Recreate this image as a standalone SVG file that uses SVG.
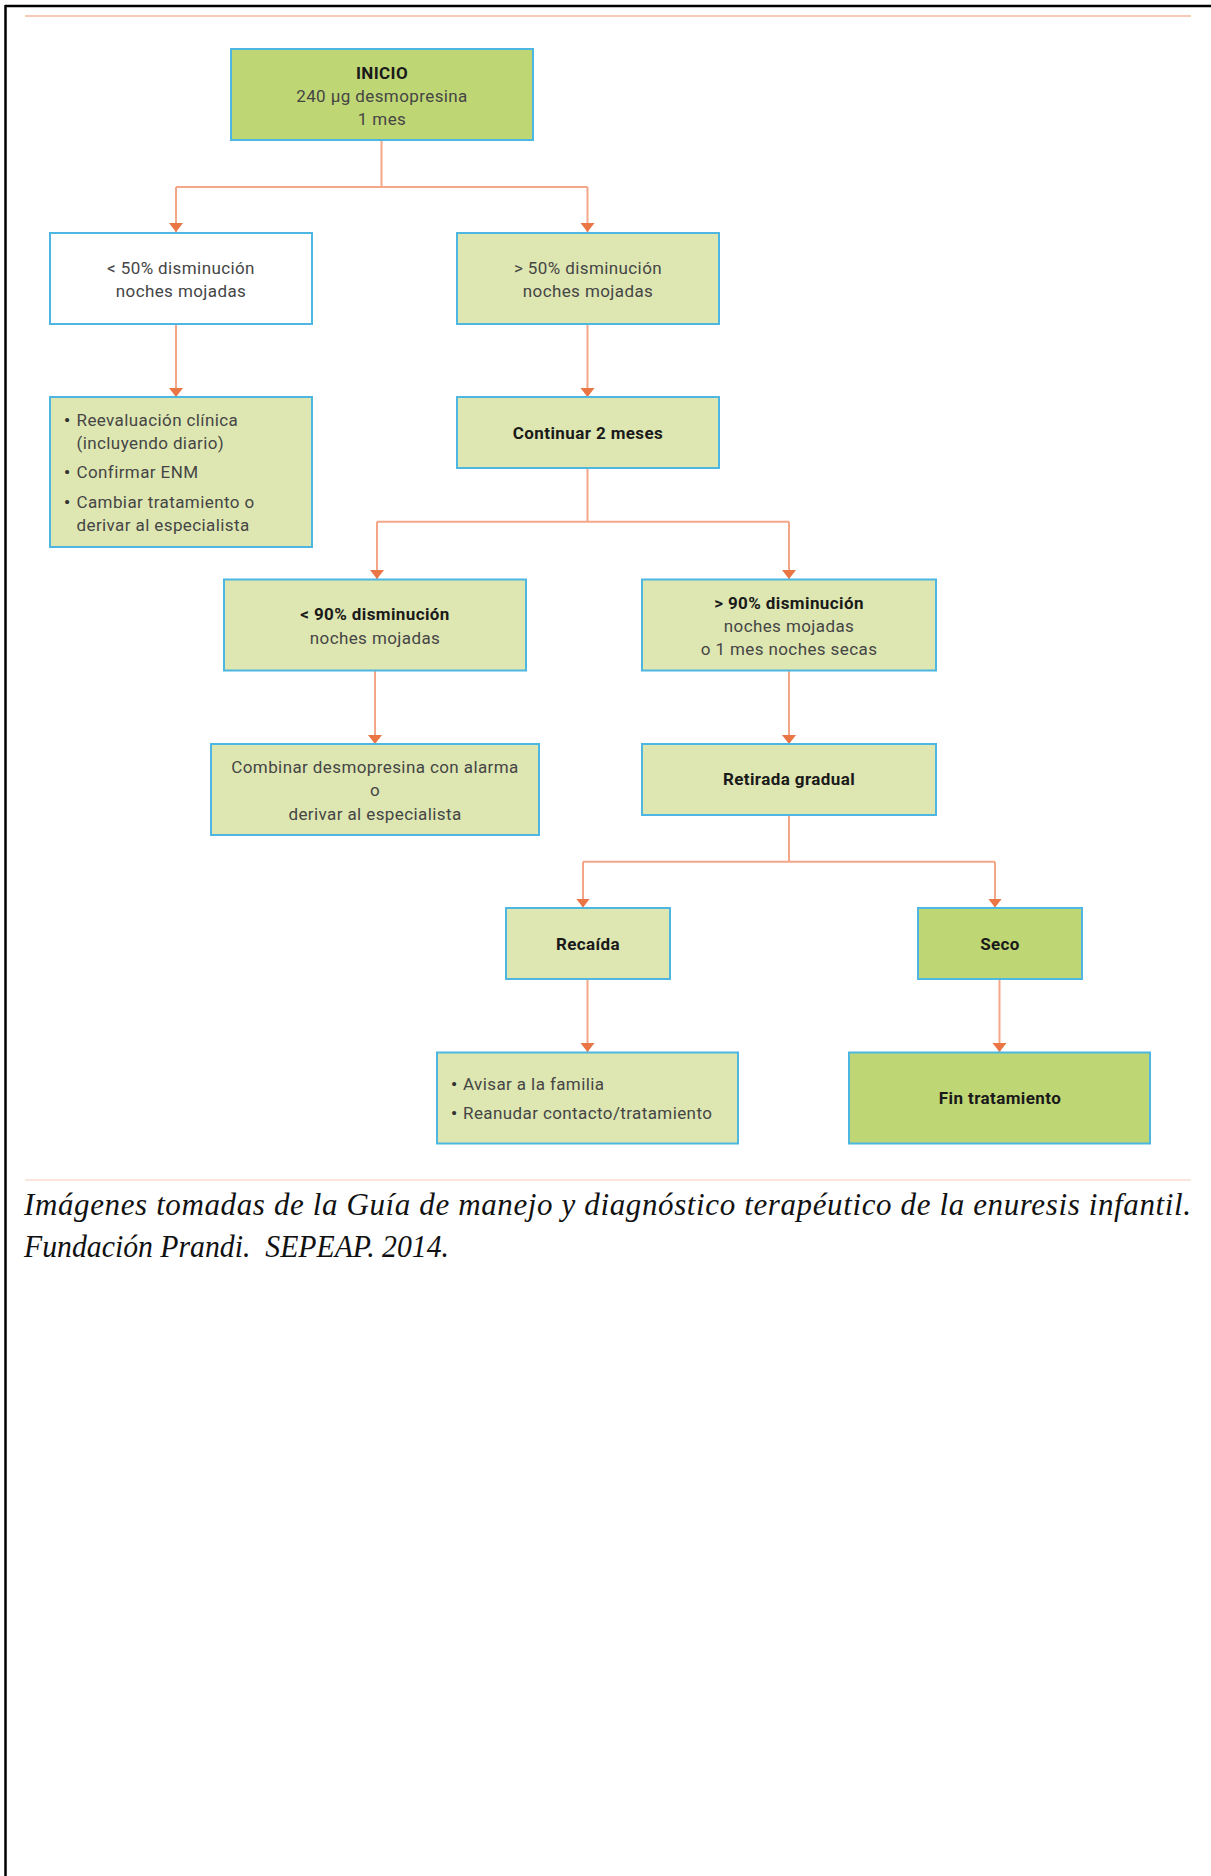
<svg xmlns="http://www.w3.org/2000/svg" width="1211" height="1876" viewBox="0 0 1211 1876">
<defs>
<style>
.box{stroke:#4db7e2;stroke-width:2}
.lg{fill:#dee7b2}
.dg{fill:#bfd674}
.wh{fill:#ffffff}
.t{font-family:Roboto,"Liberation Sans",sans-serif;font-size:17px;letter-spacing:0.4px;fill:#454545;text-anchor:middle}
.b{font-weight:bold;fill:#1a1a1a}
.l{text-anchor:start}
.bu{font-weight:bold;fill:#333}
.con{fill:none;stroke:#f4a688;stroke-width:2}
.foot{font-family:"Liberation Serif",serif;font-style:italic;font-size:31px;fill:#111}
</style>
<marker id="arr" markerUnits="userSpaceOnUse" markerWidth="10" markerHeight="15" refX="9" refY="7" orient="auto">
<path d="M0,0 L9,7 L0,14 z" fill="#ea7646"/>
</marker>
</defs>
<rect width="1211" height="1876" fill="#ffffff"/>
<line x1="5" y1="6" x2="1211" y2="6" stroke="#000" stroke-width="2.5"/>
<line x1="5.5" y1="5" x2="5.5" y2="1876" stroke="#000" stroke-width="2.5"/>
<line x1="25" y1="16" x2="1191" y2="16" stroke="#f7b9a1" stroke-width="1.5"/>

<g id="connectors">
<path class="con" d="M381.5,140 V187"/>
<path class="con" d="M176,187 H587.5"/>
<path class="con" d="M176,187 V232" marker-end="url(#arr)"/>
<path class="con" d="M587.5,187 V232" marker-end="url(#arr)"/>
<path class="con" d="M176,324 V397" marker-end="url(#arr)"/>
<path class="con" d="M587.5,324 V397" marker-end="url(#arr)"/>
<path class="con" d="M587.5,468 V521.7"/>
<path class="con" d="M377,521.7 H789"/>
<path class="con" d="M377,521.7 V579" marker-end="url(#arr)"/>
<path class="con" d="M789,521.7 V579" marker-end="url(#arr)"/>
<path class="con" d="M375,671 V744" marker-end="url(#arr)"/>
<path class="con" d="M789,671 V744" marker-end="url(#arr)"/>
<path class="con" d="M789,815 V861.7"/>
<path class="con" d="M583,861.7 H995"/>
<path class="con" d="M583,861.7 V907.5" marker-end="url(#arr)"/>
<path class="con" d="M995,861.7 V907.5" marker-end="url(#arr)"/>
<path class="con" d="M587.5,979 V1052" marker-end="url(#arr)"/>
<path class="con" d="M999.5,979 V1052" marker-end="url(#arr)"/>
</g>

<g id="inicio">
<rect class="box dg" x="231" y="49" width="302" height="91"/>
<text class="t b" x="382" y="79">INICIO</text>
<text class="t" x="382" y="102">240 µg desmopresina</text>
<text class="t" x="382" y="125">1 mes</text>
</g>

<g id="menos50">
<rect class="box wh" x="50" y="233" width="262" height="91"/>
<text class="t" x="181" y="274">&lt; 50% disminución</text>
<text class="t" x="181" y="297">noches mojadas</text>
</g>

<g id="mas50">
<rect class="box lg" x="457" y="233" width="262" height="91"/>
<text class="t" x="588" y="274">&gt; 50% disminución</text>
<text class="t" x="588" y="297">noches mojadas</text>
</g>

<g id="reevaluacion">
<rect class="box lg" x="50" y="397" width="262" height="150"/>
<text class="t l bu" x="64" y="426">•</text>
<text class="t l" x="76.5" y="426">Reevaluación clínica</text>
<text class="t l" x="76.5" y="449">(incluyendo diario)</text>
<text class="t l bu" x="64" y="478">•</text>
<text class="t l" x="76.5" y="478">Confirmar ENM</text>
<text class="t l bu" x="64" y="508">•</text>
<text class="t l" x="76.5" y="508">Cambiar tratamiento o</text>
<text class="t l" x="76.5" y="531">derivar al especialista</text>
</g>

<g id="continuar">
<rect class="box lg" x="457" y="397" width="262" height="71"/>
<text class="t b" x="588" y="439">Continuar 2 meses</text>
</g>

<g id="menos90">
<rect class="box lg" x="224" y="579.5" width="302" height="91"/>
<text class="t b" x="375" y="620">&lt; 90% disminución</text>
<text class="t" x="375" y="644">noches mojadas</text>
</g>

<g id="mas90">
<rect class="box lg" x="642" y="579.5" width="294" height="91"/>
<text class="t b" x="789" y="609">&gt; 90% disminución</text>
<text class="t" x="789" y="632">noches mojadas</text>
<text class="t" x="789" y="655">o 1 mes noches secas</text>
</g>

<g id="combinar">
<rect class="box lg" x="211" y="744" width="328" height="91"/>
<text class="t" x="375" y="773">Combinar desmopresina con alarma</text>
<text class="t" x="375" y="796">o</text>
<text class="t" x="375" y="820">derivar al especialista</text>
</g>

<g id="retirada">
<rect class="box lg" x="642" y="744" width="294" height="71"/>
<text class="t b" x="789" y="785">Retirada gradual</text>
</g>

<g id="recaida">
<rect class="box lg" x="506" y="908" width="164" height="71"/>
<text class="t b" x="588" y="950">Recaída</text>
</g>

<g id="seco">
<rect class="box dg" x="918" y="908" width="164" height="71"/>
<text class="t b" x="1000" y="950">Seco</text>
</g>

<g id="avisar">
<rect class="box lg" x="437" y="1052.5" width="301" height="91"/>
<text class="t l bu" x="451" y="1090">•</text>
<text class="t l" x="463" y="1090">Avisar a la familia</text>
<text class="t l bu" x="451" y="1119">•</text>
<text class="t l" x="463" y="1119">Reanudar contacto/tratamiento</text>
</g>

<g id="fin">
<rect class="box dg" x="849" y="1052.5" width="301" height="91"/>
<text class="t b" x="1000" y="1104">Fin tratamiento</text>
</g>

<line x1="25" y1="1180" x2="1191" y2="1180" stroke="#fbdccf" stroke-width="1.5"/>
<text class="foot" x="24" y="1215" textLength="1167" lengthAdjust="spacing">Imágenes tomadas de la Guía de manejo y diagnóstico terapéutico de la enuresis infantil.</text>
<text class="foot" x="24" y="1257" textLength="425" lengthAdjust="spacingAndGlyphs" xml:space="preserve">Fundación Prandi.  SEPEAP. 2014.</text>
</svg>
